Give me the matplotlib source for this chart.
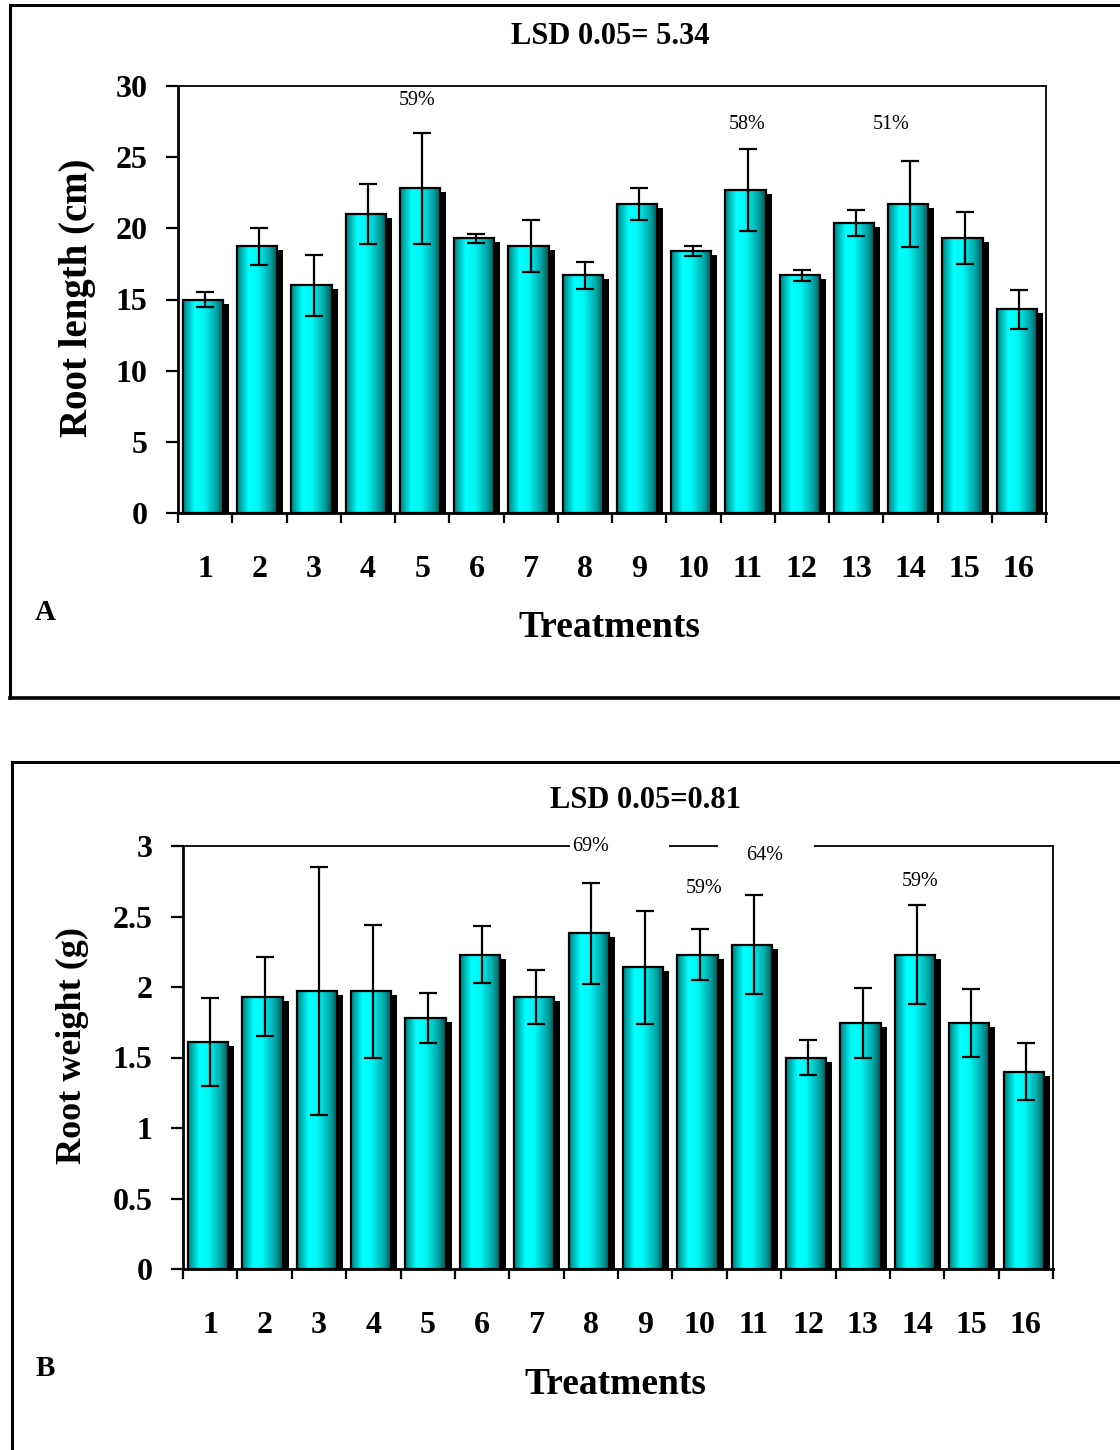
import numpy as np
import matplotlib
matplotlib.use('Agg')
import matplotlib.pyplot as plt
from matplotlib import transforms
from matplotlib.colors import LinearSegmentedColormap
from matplotlib.lines import Line2D

plt.rcParams['font.family'] = ['Liberation Serif', 'DejaVu Serif']

# ---- data ----
treatments = [str(i) for i in range(1, 17)]

root_length = [15.0, 18.75, 16.0, 21.0, 22.8, 19.3, 18.75, 16.7,
               21.7, 18.4, 22.7, 16.7, 20.4, 21.7, 19.3, 14.3]
root_length_err = [0.55, 1.3, 2.15, 2.1, 3.9, 0.32, 1.85, 0.93,
                   1.1, 0.37, 2.9, 0.37, 0.92, 3.0, 1.83, 1.4]
length_notes = ['59%', '58%', '51%']
length_note_x = [4.9, 11.0, 13.64]
length_note_y = [29.0, 27.3, 27.3]

root_weight = [1.61, 1.93, 1.97, 1.97, 1.78, 2.23, 1.93, 2.38,
               2.14, 2.23, 2.30, 1.50, 1.745, 2.23, 1.745, 1.40]
root_weight_err = [0.31, 0.28, 0.88, 0.47, 0.18, 0.20, 0.19, 0.36,
                   0.40, 0.18, 0.35, 0.125, 0.25, 0.35, 0.24, 0.20]
weight_notes = ['69%', '59%', '64%', '59%']
weight_note_x = [8.0, 10.08, 11.2, 14.05]
weight_note_y = [3.0, 2.70, 2.93, 2.75]

W, H = 1120, 1450
fig = plt.figure(figsize=(W / 100, H / 100), dpi=100)


def fx(x):
    return x / W


def fy(y):
    return 1 - y / H


cmap = LinearSegmentedColormap.from_list(
    'cyanbar', [(0.0, '#007f7f'), (0.28, '#00ffff'), (0.5, '#00f8f8'),
                (0.8, '#00a8a8'), (1.0, '#005656')])
grad = np.linspace(0, 1, 256).reshape(1, -1)


def panel(rect, vals, errs, ymax, ystep, ylabels, ylab, ylab_xy, ylab_size,
          lsd, lsd_xy, xlab_xy, letter, letter_xy, notes, nx, ny, gaps=()):
    ax = fig.add_axes(rect)
    x = np.arange(1, len(vals) + 1)
    w = 0.74
    xc = x - 0.04
    shadow = ax.transData + transforms.ScaledTranslation(6 / 100, -4 / 100, fig.dpi_scale_trans)
    ax.bar(xc, vals, w, color='black', transform=shadow, zorder=1)
    for xi, v in zip(xc, vals):
        ax.imshow(grad, extent=(xi - w / 2, xi + w / 2, 0, v), aspect='auto',
                  cmap=cmap, zorder=2, interpolation='bicubic')
    ax.bar(xc, vals, w, facecolor='none', edgecolor='black', linewidth=1.6, zorder=3)
    ax.errorbar(x, vals, yerr=errs, fmt='none', ecolor='black', elinewidth=1.6,
                capsize=6.5, capthick=1.6, zorder=4)
    ax.set_xlim(0.5, len(vals) + 0.5)
    ax.set_ylim(0, ymax)
    ax.set_aspect('auto')

    ax.set_xticks(np.arange(0.5, len(vals) + 1, 1))
    ax.set_xticklabels([])
    ax.set_xticks(x, minor=True)
    ax.set_xticklabels(treatments, minor=True, fontsize=23, fontweight='bold')
    ax.tick_params(axis='x', which='major', direction='out', length=7, width=1.6)
    ax.tick_params(axis='x', which='minor', length=0, pad=30)
    ax.set_yticks(np.arange(0, ymax + ystep / 2, ystep))
    ax.set_yticklabels(ylabels, fontsize=23, fontweight='bold')
    ax.tick_params(axis='y', direction='out', length=9, width=1.6, pad=13)
    for s in ['left', 'bottom']:
        ax.spines[s].set_linewidth(2.0)
    for s in ['top', 'right']:
        ax.spines[s].set_linewidth(1.3)

    for gx0, gx1 in gaps:
        ax.plot([gx0, gx1], [ymax, ymax], color='white', lw=3, clip_on=False,
                zorder=5, solid_capstyle='butt')
    for t, tx, ty in zip(notes, nx, ny):
        ax.text(tx, ty, t, ha='center', va='center', fontsize=14.5, zorder=6,
                clip_on=False)

    fig.text(fx(ylab_xy[0]), fy(ylab_xy[1]), ylab, rotation=90, ha='center',
             va='center', fontsize=ylab_size, fontweight='bold')
    fig.text(fx(lsd_xy[0]), fy(lsd_xy[1]), lsd, ha='center', va='center',
             fontsize=22, fontweight='bold')
    fig.text(fx(xlab_xy[0]), fy(xlab_xy[1]), 'Treatments', ha='center',
             va='center', fontsize=27, fontweight='bold')
    fig.text(fx(letter_xy[0]), fy(letter_xy[1]), letter, ha='center',
             va='center', fontsize=21, fontweight='bold')
    return ax


# panel frames
for (x0, y0, y1) in [(10, 5, 698), (12, 762, 1460)]:
    fig.add_artist(Line2D([fx(x0), fx(W + 10)], [fy(y0), fy(y0)], color='black', lw=2.2))
    fig.add_artist(Line2D([fx(x0), fx(x0)], [fy(y0), fy(y1)], color='black', lw=2.2))
    fig.add_artist(Line2D([fx(x0), fx(W + 10)], [fy(y1), fy(y1)], color='black', lw=2.6))

panel([fx(178), fy(513), (1046 - 178) / W, (513 - 86) / H],
      root_length, root_length_err, 30, 5,
      ['0', '5', '10', '15', '20', '25', '30'],
      'Root length (cm)', (78, 298), 28,
      'LSD 0.05= 5.34', (610, 36), (609, 628), 'A', (45, 612),
      length_notes, length_note_x, length_note_y)

panel([fx(183), fy(1269), (1053 - 183) / W, (1269 - 846) / H],
      root_weight, root_weight_err, 3, 0.5,
      ['0', '0.5', '1', '1.5', '2', '2.5', '3'],
      'Root weight (g)', (72, 1045), 26,
      'LSD 0.05=0.81', (645, 801), (615, 1385), 'B', (45, 1368),
      weight_notes, weight_note_x, weight_note_y,
      gaps=[(7.62, 9.43), (10.34, 12.1)])

fig.savefig('out.png', dpi=100)
